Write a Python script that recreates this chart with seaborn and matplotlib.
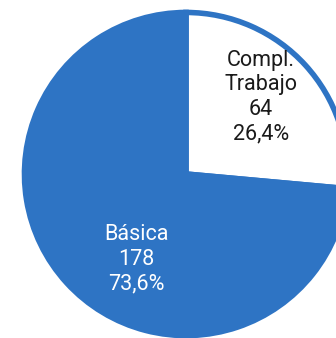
import matplotlib
matplotlib.use("Agg")
import matplotlib.pyplot as plt
import seaborn as sns

# data
categories = ["Compl.\nTrabajo", "Básica"]
counts = [64, 178]
slice_colors = ["#ffffff", "#2e74c4"]
text_colors = ["#1a1a1a", "#ffffff"]

sns.set_theme(style="white")
plt.rcParams['font.family'] = ['Roboto', 'DejaVu Sans']

fig = plt.figure(figsize=(3.36, 3.38), dpi=100)
# pie box: 328 px square, left at x=22, top at y=10
ax = fig.add_axes([22 / 336, 0 / 338, 328 / 336, 328 / 338])

wedges, _ = ax.pie(counts, colors=slice_colors, startangle=90, counterclock=False,
                   radius=0.985,
                   wedgeprops=dict(edgecolor="#2e74c4", linewidth=4.0))
ax.set_xlim(-1, 1)
ax.set_ylim(-1, 1)
ax.set_aspect("equal")
ax.axis("off")

total = sum(counts)
label_pos = [(0.455, 0.47), (-0.30, -0.52)]
for cat, n, col, (x, y) in zip(categories, counts, text_colors, label_pos):
    pct = f"{100 * n / total:.1f}".replace(".", ",")
    ax.text(x, y, f"{cat}\n{n}\n{pct}%", ha="center", va="center",
            color=col, fontsize=15.5, linespacing=1.22)

fig.savefig("out.png", dpi=100)
